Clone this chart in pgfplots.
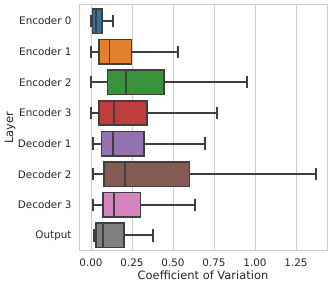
\documentclass[border=0pt]{standalone}
\usepackage{fontspec}
\setmainfont{DejaVu Sans}
\usepackage{pgfplots}
\pgfplotsset{compat=1.18}
\usepgfplotslibrary{statistics}
\definecolor{c0}{HTML}{3274A1}
\definecolor{c1}{HTML}{E1812C}
\definecolor{c2}{HTML}{3A923A}
\definecolor{c3}{HTML}{C03D3E}
\definecolor{c4}{HTML}{9372B2}
\definecolor{c5}{HTML}{845B53}
\definecolor{c6}{HTML}{D684BD}
\definecolor{c7}{HTML}{7F7F7F}
\definecolor{edge}{HTML}{3F3F3F}
\definecolor{gridc}{HTML}{CCCCCC}
\definecolor{txt}{HTML}{262626}
\begin{document}
\begin{tikzpicture}
\begin{axis}[
  scale only axis, width=248bp, height=246.4bp,
  xmin=-0.073, xmax=1.439, ymin=-0.55, ymax=7.5, y dir=reverse,
  ytick={0,1,2,3,4,5,6,7},
  yticklabels={Encoder 0,Encoder 1,Encoder 2,Encoder 3,Decoder 1,Decoder 2,Decoder 3,Output},
  xtick={0,0.25,0.5,0.75,1.0,1.25},
  xticklabels={0.00,0.25,0.50,0.75,1.00,1.25},
  xmajorgrids, ymajorgrids=false,
  grid style={color=gridc, line width=0.9bp},
  axis line style={gridc, line width=0.9bp},
  major tick length=0pt,
  tick label style={font=\fontsize{10.4}{12}\selectfont, text=txt},
  xticklabel style={yshift=-4.5bp},
  yticklabel style={xshift=-4bp},
  xlabel={Coefficient of Variation},
  ylabel={Layer},
  every axis x label/.style={at={(axis description cs:0.5,-0.0986)}, anchor=center, font=\fontsize{11.5}{13}\selectfont, text=txt},
  every axis y label/.style={at={(axis description cs:-0.278,0.5)}, anchor=center, rotate=90, font=\fontsize{11.5}{13}\selectfont, text=txt},
  /pgf/number format/assume math mode=true,
  boxplot/draw direction=x,
  boxplot/box extend=0.8,
  boxplot/whisker extend=0.4,
  boxplot/every whisker/.style={draw=edge, line width=2bp, solid},
  boxplot/every median/.style={draw=edge, line width=1.6bp, solid},
  boxplot/every box/.style={draw=edge, line width=1.6bp, solid},
]
\addplot[boxplot prepared={draw position=0, lower whisker=0.0, lower quartile=0.010, median=0.030, upper quartile=0.067, upper whisker=0.132}, fill=c0, draw=edge, line width=1.6bp, solid] coordinates {};
\addplot[boxplot prepared={draw position=1, lower whisker=0.0, lower quartile=0.050, median=0.114, upper quartile=0.247, upper whisker=0.530}, fill=c1, draw=edge, line width=1.6bp, solid] coordinates {};
\addplot[boxplot prepared={draw position=2, lower whisker=0.0, lower quartile=0.100, median=0.213, upper quartile=0.445, upper whisker=0.953}, fill=c2, draw=edge, line width=1.6bp, solid] coordinates {};
\addplot[boxplot prepared={draw position=3, lower whisker=0.0, lower quartile=0.049, median=0.140, upper quartile=0.340, upper whisker=0.770}, fill=c3, draw=edge, line width=1.6bp, solid] coordinates {};
\addplot[boxplot prepared={draw position=4, lower whisker=0.012, lower quartile=0.065, median=0.136, upper quartile=0.323, upper whisker=0.695}, fill=c4, draw=edge, line width=1.6bp, solid] coordinates {};
\addplot[boxplot prepared={draw position=5, lower whisker=0.010, lower quartile=0.081, median=0.209, upper quartile=0.600, upper whisker=1.374}, fill=c5, draw=edge, line width=1.6bp, solid] coordinates {};
\addplot[boxplot prepared={draw position=6, lower whisker=0.010, lower quartile=0.073, median=0.140, upper quartile=0.303, upper whisker=0.634}, fill=c6, draw=edge, line width=1.6bp, solid] coordinates {};
\addplot[boxplot prepared={draw position=7, lower whisker=0.018, lower quartile=0.029, median=0.073, upper quartile=0.201, upper whisker=0.376}, fill=c7, draw=edge, line width=1.6bp, solid] coordinates {};
\end{axis}
\path ([shift={(-79bp,-36.3bp)}]current axis.south west) rectangle ([shift={(5bp,4.3bp)}]current axis.north east);
\end{tikzpicture}
\end{document}
